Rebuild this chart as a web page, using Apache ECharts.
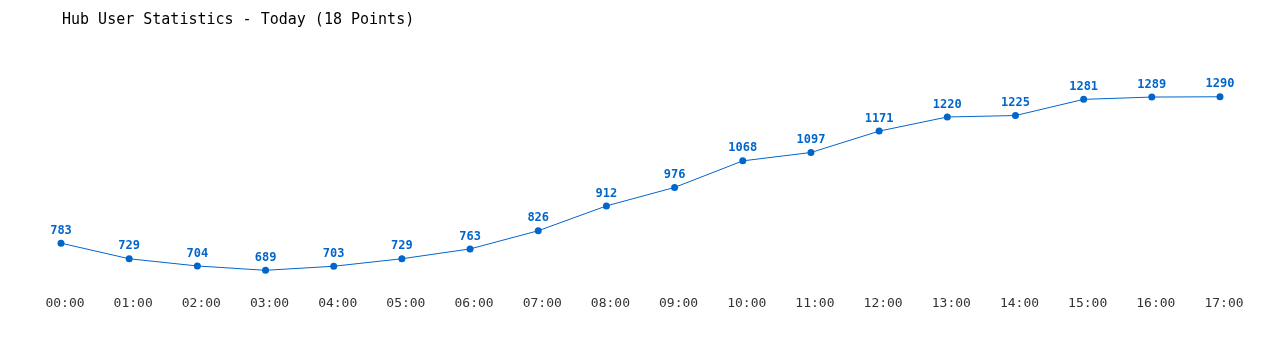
<!DOCTYPE html>
<html>
<head>
<meta charset="utf-8">
<script src="https://cdn.jsdelivr.net/npm/echarts@6/dist/echarts.min.js"></script>
<style>
  html, body { margin: 0; padding: 0; background: #fff; }
  #chart { width: 1280px; height: 350px; }
</style>
</head>
<body>
<div id="chart"></div>
<script>
  // hourly points
  const hours = ['00:00', '01:00', '02:00', '03:00', '04:00', '05:00', '06:00', '07:00', '08:00',
    '09:00', '10:00', '11:00', '12:00', '13:00', '14:00', '15:00', '16:00', '17:00'];
  const users = [783, 729, 704, 689, 703, 729, 763, 826, 912, 976, 1068, 1097, 1171, 1220, 1225, 1281, 1289, 1290];

  const mono = '"DejaVu Sans Mono", "Liberation Mono", monospace';
  const blue = '#0066cc';

  let myChart = echarts.init(document.getElementById('chart'));
  let option = {
    animation: false,
    title: {
      text: 'Hub User Statistics - Today (18 Points)',
      left: 57,
      top: 8,
      textStyle: { fontFamily: mono, fontSize: 15, fontWeight: 'normal', color: '#000' }
    },
    grid: { left: 61, right: 60, top: 65, bottom: 54 },
    xAxis: {
      type: 'category',
      data: hours,
      boundaryGap: false,
      axisLine: { show: false },
      axisTick: { show: false },
      axisLabel: { fontFamily: mono, fontSize: 13, color: '#333', margin: 1, padding: [0, 0, 0, 8] }
    },
    yAxis: {
      type: 'value',
      min: 600,
      max: 1400,
      show: false
    },
    series: [
      {
        type: 'line',
        data: users,
        symbol: 'circle',
        symbolSize: 7,
        lineStyle: { color: blue, width: 1 },
        itemStyle: { color: blue },
        label: {
          show: true,
          position: 'top',
          distance: 3,
          fontFamily: mono,
          fontSize: 12,
          fontWeight: 'bold',
          color: blue
        }
      }
    ]
  };
  myChart.setOption(option);
</script>
</body>
</html>
